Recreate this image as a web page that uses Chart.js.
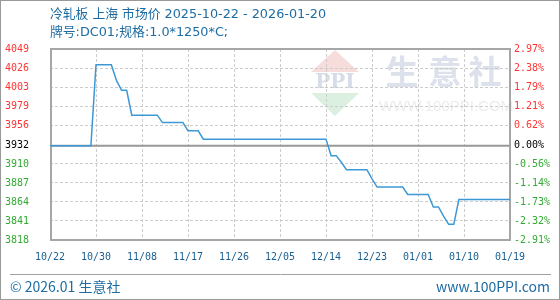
<!DOCTYPE html>
<html>
<head>
<meta charset="utf-8">
<script src="https://cdn.jsdelivr.net/npm/chart.js@4/dist/chart.umd.min.js"></script>
<style>
html,body{margin:0;padding:0;background:#fff;}
#box{width:560px;height:300px;}
</style>
</head>
<body>
<div id="box"><canvas id="priceChart" width="560" height="300"></canvas></div>
<script>
//__________ 資料 __________//
var titleText = "冷轧板 上海 市场价 2025-10-22 - 2026-01-20";
var subText = "牌号:DC01;规格:1.0*1250*C;";
var footLeft = "© 2026.01 生意社";
var footRight = "www.100PPI.com";

var dateLabels = ['10/22','10/30','11/08','11/17','11/26','12/05','12/14','12/23','01/01','01/10','01/19'];
var labelStep = 9; // 每個日期標籤之間的點數

var dayIndex = [0, 8, 9, 12, 13, 14, 15, 16, 21, 22, 26, 27, 29, 30, 54, 55, 56, 57, 58, 62, 63, 64, 69, 70, 74, 75, 76, 77, 78, 79, 80, 90];
var prices   = [3932, 3932, 4030, 4030, 4011, 3999, 3999, 3969, 3969, 3960, 3960, 3950, 3950, 3940, 3940, 3920, 3920, 3912, 3903, 3903, 3892, 3882, 3882, 3873, 3873, 3858, 3858, 3847, 3837, 3837, 3867, 3867];

var basePrice = 3932;
var priceTicks = [4049, 4026, 4003, 3979, 3956, 3932, 3910, 3887, 3864, 3841, 3818];
var pctTicks = ['2.97%','2.38%','1.79%','1.21%','0.62%','0.00%','-0.56%','-1.14%','-1.73%','-2.32%','-2.91%'];

var points = [];
for (var i = 0; i < dayIndex.length; i++) {
    points.push({x: dayIndex[i], y: prices[i]});
}

function tickColor(c){
    if (!c.tick) return '#000';
    if (c.tick.value > basePrice) return '#ff3333';
    if (c.tick.value < basePrice) return '#33aa33';
    return '#000000';
}
var tickFont = {family: 'DejaVu Sans Mono', size: 10};

//__________ 浮水印、外框、標題 __________//
var decorPlugin = {
    id: 'decor',
    beforeDraw: function(chart){
        var ctx = chart.ctx;
        ctx.save();
        ctx.fillStyle = '#f7dcdc';
        ctx.beginPath(); ctx.moveTo(335, 50); ctx.lineTo(359, 72); ctx.lineTo(311, 72); ctx.closePath(); ctx.fill();
        ctx.fillStyle = '#dbf0e0';
        ctx.beginPath(); ctx.moveTo(311, 93); ctx.lineTo(359, 93); ctx.lineTo(335, 116); ctx.closePath(); ctx.fill();
        ctx.textAlign = 'center';
        ctx.textBaseline = 'middle';
        ctx.fillStyle = '#d6dce9';
        ctx.font = 'bold 20px "DejaVu Serif"';
        ctx.fillText('PPI', 335, 83);
        ctx.fillStyle = '#dde1ec';
        ctx.font = 'bold 33px "Noto Sans CJK SC"';
        ctx.fillText('生', 402, 71);
        ctx.fillText('意', 445, 71);
        ctx.fillText('社', 485, 71);
        ctx.fillStyle = '#ececec';
        ctx.font = '15px "Liberation Sans"';
        ctx.fillText('WWW.100PPI.COM', 446, 107);
        ctx.restore();
    },
    beforeDatasetsDraw: function(chart){
        var ctx = chart.ctx;
        var a = chart.chartArea;
        var yb = chart.scales.y.getPixelForValue(basePrice);
        ctx.save();
        ctx.strokeStyle = '#999999';
        ctx.lineWidth = 2;
        ctx.beginPath(); ctx.moveTo(a.left, yb); ctx.lineTo(a.right, yb); ctx.stroke();
        ctx.strokeStyle = '#a6a6a6';
        ctx.lineWidth = 2;
        ctx.strokeRect(a.left + 1, a.top, a.right - a.left - 1, a.bottom - a.top);
        ctx.restore();
    },
    afterDraw: function(chart){
        var ctx = chart.ctx;
        ctx.save();
        ctx.fillStyle = '#1c6ca3';
        ctx.textBaseline = 'middle';
        ctx.textAlign = 'left';
        ctx.font = '12.8px "DejaVu Sans", "Noto Sans CJK SC"';
        ctx.fillText(titleText, 50, 15);
        ctx.fillText(subText, 50, 33);
        ctx.font = '14px "Noto Sans CJK SC"';
        ctx.fillText(footLeft, 10, 287);
        ctx.textAlign = 'right';
        ctx.fillText(footRight, 550, 287);
        ctx.strokeStyle = '#a0a0a0';
        ctx.lineWidth = 1;
        ctx.beginPath(); ctx.moveTo(10, 274.5); ctx.lineTo(551, 274.5); ctx.stroke();
        ctx.strokeStyle = '#999999';
        ctx.strokeRect(0.5, 0.5, 559, 299);
        ctx.restore();
    }
};

var yMin = Math.min.apply(null, priceTicks);
var yMax = Math.max.apply(null, priceTicks);

var priceChart = new Chart(document.getElementById('priceChart').getContext('2d'), {
    type: 'line',
    data: {
        datasets: [{
            data: points,
            borderColor: '#3c98d6',
            borderWidth: 1.5,
            pointRadius: 0,
            tension: 0,
            fill: false
        }]
    },
    options: {
        responsive: false,
        animation: false,
        devicePixelRatio: 1,
        layout: {padding: {top: 49, left: 5, right: 0, bottom: 0}},
        plugins: {legend: {display: false}, tooltip: {enabled: false}},
        scales: {
            x: {
                type: 'linear',
                min: 0,
                max: (dateLabels.length - 1) * labelStep,
                afterBuildTicks: function(axis){
                    axis.ticks = dateLabels.map(function(d, i){ return {value: i * labelStep}; });
                },
                afterFit: function(axis){ axis.height = 60; },
                grid: {color: '#cccccc', lineWidth: 1, drawTicks: false},
                border: {display: false, dash: [3, 2]},
                ticks: {
                    padding: 11, autoSkip: false, maxRotation: 0,
                    font: tickFont, color: '#1a5f91',
                    callback: function(v, i){ return dateLabels[i]; }
                }
            },
            y: {
                type: 'linear',
                position: 'left',
                min: yMin,
                max: yMax,
                afterBuildTicks: function(axis){
                    axis.ticks = priceTicks.map(function(v){ return {value: v}; });
                },
                afterFit: function(axis){ axis.width = 45; },
                grid: {color: '#cccccc', lineWidth: 1, drawTicks: false},
                border: {display: false, dash: [3, 2]},
                ticks: {
                    padding: 0, crossAlign: 'far',
                    font: tickFont, color: tickColor,
                    callback: function(v, i){ return String(priceTicks[i]); }
                }
            },
            y2: {
                type: 'linear',
                position: 'right',
                min: yMin,
                max: yMax,
                afterBuildTicks: function(axis){
                    axis.ticks = priceTicks.map(function(v){ return {value: v}; });
                },
                afterFit: function(axis){ axis.width = 50; },
                grid: {display: false, drawTicks: false},
                border: {display: false},
                ticks: {
                    padding: 4,
                    font: tickFont, color: tickColor,
                    callback: function(v, i){ return pctTicks[i]; }
                }
            }
        }
    },
    plugins: [decorPlugin]
});
</script>
</body>
</html>
